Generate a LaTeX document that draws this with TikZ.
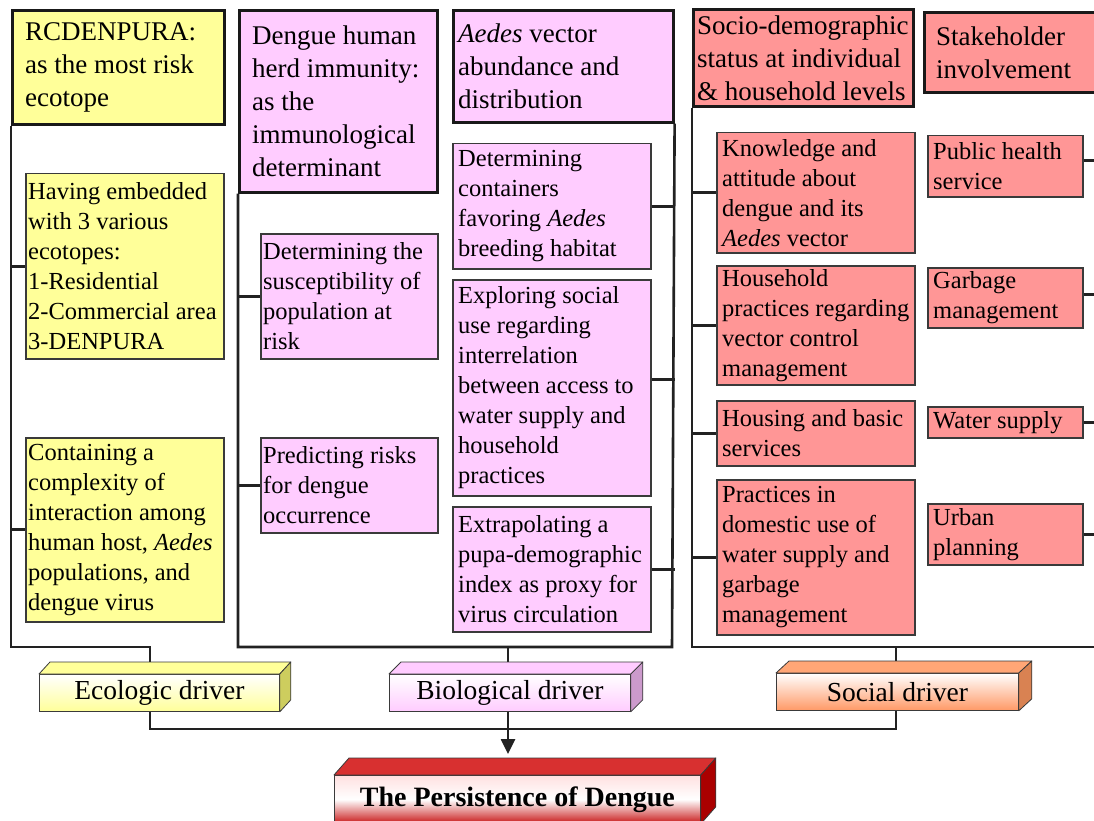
\documentclass[tikz,border=0pt]{standalone}
\usepackage{fontspec}
\setmainfont{Liberation Serif}
\usetikzlibrary{arrows.meta}
\definecolor{yelF}{HTML}{FFFF99}
\definecolor{pinkF}{HTML}{FFCCFF}
\definecolor{salF}{HTML}{FF9696}
\definecolor{edgeC}{HTML}{3A3A3A}
\definecolor{frameC}{HTML}{222222}
\definecolor{ecoSide}{HTML}{CDCD5E}
\definecolor{bioSide}{HTML}{CC9ACC}
\definecolor{socFront}{HTML}{FF9966}
\definecolor{socTop}{HTML}{FFA676}
\definecolor{socSide}{HTML}{D98252}
\definecolor{perFront}{HTML}{C81818}
\definecolor{perTop}{HTML}{D83030}
\definecolor{perSide}{HTML}{AA0000}
\newcommand\fsub{\fontsize{24.5}{30}\selectfont}
\newcommand\fhead{\fontsize{27}{33}\selectfont}
\newcommand\fdrv{\fontsize{27.5}{33}\selectfont}
\newcommand\tbox[9]{%
  \pgfmathsetmacro\tbw{#5-#3}%
  \pgfmathsetmacro\tbh{#6-#4}%
  \node[#2, anchor=north west, inner sep=0pt,
        minimum width=\tbw pt, minimum height=\tbh pt] (#1) at (#3,#4) {};
  \node[anchor=west, inner sep=0pt, align=left, font=#8] at ([xshift=#7pt]#1.west) {#9};}
\newcommand\faces[4]{%
  \filldraw[fill=#3, draw=edgeC, line width=0.8pt, line join=round]
    (#1.north west) -- ([shift={#2}]#1.north west) -- ([shift={#2}]#1.north east) -- (#1.north east) -- cycle;
  \filldraw[fill=#4, draw=edgeC, line width=0.8pt, line join=round]
    (#1.north east) -- ([shift={#2}]#1.north east) -- ([shift={#2}]#1.south east) -- (#1.south east) -- cycle;}
\begin{document}
\begin{tikzpicture}[x=1pt,y=-1pt,
  subbox/.style={draw=edgeC, line width=1.5pt},
  headbox/.style={draw=black!90, line width=2.6pt},
  frame/.style={draw=frameC, line width=2.6pt},
  drvfront/.style={draw=edgeC, line width=0.8pt, anchor=north west, inner sep=0pt, font=\fdrv}]
\useasboundingbox (0,0) rectangle (1094,821);
\clip (0,0) rectangle (1094,821);
\fill[white] (0,0) rectangle (1094,821);

% ---------- Ecologic column ----------
\tbox{h1}{headbox, fill=yelF}{11}{9}{223}{123}{14}{\fhead}{RCDENPURA:\\as the most risk\\ecotope}
\tbox{y1}{subbox, fill=yelF}{25}{173}{223}{358}{3}{\fsub}{Having embedded\\with 3 various\\ecotopes:\\1-Residential\\2-Commercial area\\3-DENPURA}
\tbox{y2}{subbox, fill=yelF}{25}{437}{223}{621}{3}{\fsub}{Containing a\\complexity of\\interaction among\\human host, \textit{Aedes}\\populations, and\\dengue virus}

% ---------- Biological columns ----------
\tbox{h2}{headbox, fill=pinkF}{238}{9}{436}{191}{14}{\fhead}{Dengue human\\herd immunity:\\as the\\immunological\\determinant}
\tbox{p1}{subbox, fill=pinkF}{260}{233}{437}{358}{3}{\fsub}{Determining the\\susceptibility of\\population at\\risk}
\tbox{p2}{subbox, fill=pinkF}{260}{437}{437}{532}{3}{\fsub}{Predicting risks\\for dengue\\occurrence}
\tbox{h3}{headbox, fill=pinkF}{452}{9}{672}{121}{6}{\fhead}{\textit{Aedes} vector\\abundance and\\distribution}
\tbox{p3}{subbox, fill=pinkF}{452}{143}{650}{268}{6}{\fsub}{Determining\\containers\\favoring \textit{Aedes}\\breeding habitat}
\tbox{p4}{subbox, fill=pinkF}{452}{279}{650}{495}{6}{\fsub}{Exploring social\\use regarding\\interrelation\\between access to\\water supply and\\household\\practices}
\tbox{p5}{subbox, fill=pinkF}{452}{506}{650}{631}{6}{\fsub}{Extrapolating a\\pupa-demographic\\index as proxy for\\virus circulation}

% ---------- Social columns ----------
\tbox{h4}{headbox, fill=salF}{692}{8}{912}{105}{5}{\fhead}{Socio-demographic\\status at individual\\\& household levels}
\tbox{h5}{headbox, fill=salF}{923}{11}{1110}{91}{13}{\fhead}{Stakeholder\\involvement}
\tbox{s1}{subbox, fill=salF}{716}{132}{914}{252}{6}{\fsub}{Knowledge and\\attitude about\\dengue and its\\\textit{Aedes} vector}
\tbox{s2}{subbox, fill=salF}{716}{265}{914}{384}{6}{\fsub}{Household\\practices regarding\\vector control\\management}
\tbox{s3}{subbox, fill=salF}{716}{400}{914}{465}{6}{\fsub}{Housing and basic\\services}
\tbox{s4}{subbox, fill=salF}{716}{479}{914}{634}{6}{\fsub}{Practices in\\domestic use of\\water supply and\\garbage\\management}
\tbox{t1}{subbox, fill=salF}{927}{135}{1082}{196}{6}{\fsub}{Public health\\service}
\tbox{t2}{subbox, fill=salF}{927}{267}{1082}{327}{6}{\fsub}{Garbage\\management}
\tbox{t3}{subbox, fill=salF}{927}{406}{1082}{437}{6}{\fsub}{Water supply}
\tbox{t4}{subbox, fill=salF}{927}{503}{1082}{564}{6}{\fsub}{Urban\\planning}

% ---------- frame coordinates ----------
\coordinate (eBL) at (11,647);
\coordinate (eBR) at (150,647);
\coordinate (bBL) at (238,647);
\coordinate (bBR) at (672,647);
\coordinate (bD) at (508,647);
\coordinate (sBL) at (692,647);
\coordinate (sBR) at (1100,647);
\coordinate (sD) at (896,647);
\coordinate (bl) at (0,729);
\coordinate (pt) at (508,754);

% ---------- frames ----------
\draw[frame] (h1.south west) -- (eBL) -- (eBR) -- (eBR |- 0,668);
\draw[frame] (y1.west -| h1.south west) -- (y1.west);
\draw[frame] (y2.west -| h1.south west) -- (y2.west);

\draw[frame] (h2.south west) -- (bBL) -- (bBR) -- (h3.south east);
\draw[frame] (bD) -- (bD |- 0,668);
\draw[frame] (p1.west -| h2.south west) -- (p1.west);
\draw[frame] (p2.west -| h2.south west) -- (p2.west);
\draw[frame] (p3.east) -- (p3.east -| h3.south east);
\draw[frame] ([yshift=8pt]p4.east) -- ([yshift=8pt]p4.east -| h3.south east);
\draw[frame] (p5.east) -- (p5.east -| h3.south east);

\draw[frame] (h4.south west) -- (sBL) -- (sBR);
\draw[frame] (sD) -- (sD |- 0,668);
\draw[frame] (s1.west -| h4.south west) -- (s1.west);
\draw[frame] (s2.west -| h4.south west) -- (s2.west);
\draw[frame] (s3.west -| h4.south west) -- (s3.west);
\draw[frame] (s4.west -| h4.south west) -- (s4.west);
\draw[frame] ([yshift=6pt]t1.east) -- ([yshift=6pt]t1.east -| sBR);
\draw[frame] ([yshift=3pt]t2.east) -- ([yshift=3pt]t2.east -| sBR);
\draw[frame] (t3.east) -- (t3.east -| sBR);
\draw[frame] (t4.east) -- (t4.east -| sBR);

% ---------- drivers ----------
\node[drvfront, top color=white, bottom color=yelF, minimum width=240pt, minimum height=37pt] (eco) at (39,674) {Ecologic driver};
\faces{eco}{(11,-12)}{yelF}{ecoSide}
\node[drvfront, top color=white, bottom color=pinkF, minimum width=241pt, minimum height=37pt] (bio) at (389,674) {Biological driver};
\faces{bio}{(12,-12)}{pinkF}{bioSide}
\node[drvfront, top color=white, bottom color=socFront, minimum width=242pt, minimum height=37pt] (soc) at (776,673) {Social driver};
\faces{soc}{(13,-12)}{socTop}{socSide}

\draw[frame] (eco.south -| eBR) -- (eBR |- bl) -- (sD |- bl) -- (soc.south -| sD);
\draw[frame, -{Triangle[width=14pt,length=15pt]}] (bio.south -| bD) -- (pt);

\node[drvfront, top color=red!12, bottom color=perFront, middle color=white, minimum width=366pt, minimum height=48pt, font=\fontsize{28}{33}\selectfont\bfseries] (per) at (334,775) {\raisebox{-2pt}{The Persistence of Dengue}};
\faces{per}{(15,-17)}{perTop}{perSide}
\end{tikzpicture}
\end{document}
